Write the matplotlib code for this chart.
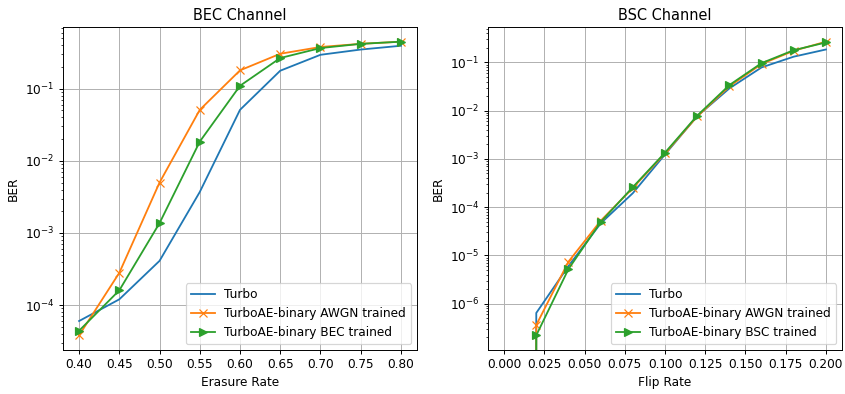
import numpy as np
import matplotlib
matplotlib.use("Agg")
import matplotlib.pyplot as plt

# BEC channel data
bec_x = [0.40, 0.45, 0.50, 0.55, 0.60, 0.65, 0.70, 0.75, 0.80]
bec_turbo = [6.0e-5, 1.2e-4, 4.1e-4, 3.7e-3, 5.1e-2, 1.78e-1, 2.96e-1, 3.5e-1, 3.95e-1]
bec_awgn = [3.8e-5, 2.8e-4, 5.0e-3, 5.1e-2, 1.8e-1, 3.06e-1, 3.8e-1, 4.2e-1, 4.5e-1]
bec_bec = [4.4e-5, 1.6e-4, 1.37e-3, 1.85e-2, 1.1e-1, 2.67e-1, 3.67e-1, 4.2e-1, 4.5e-1]

# BSC channel data
bsc_x = [0.0, 0.02, 0.04, 0.06, 0.08, 0.10, 0.12, 0.14, 0.16, 0.18, 0.20]
bsc_turbo = [0.0, 6.4e-7, 6.0e-6, 4.6e-5, 1.95e-4, 1.24e-3, 7.7e-3, 2.9e-2, 7.9e-2, 1.32e-1, 1.86e-1]
bsc_awgn = [0.0, 3.6e-7, 7.4e-6, 5.2e-5, 2.5e-4, 1.3e-3, 7.6e-3, 3.2e-2, 9.3e-2, 1.75e-1, 2.7e-1]
bsc_bsc = [0.0, 2.2e-7, 5.2e-6, 4.9e-5, 2.6e-4, 1.35e-3, 7.9e-3, 3.4e-2, 9.7e-2, 1.8e-1, 2.6e-1]

DPI = 87
fig = plt.figure(figsize=(845 / DPI, 394 / DPI), dpi=DPI)
ax1 = fig.add_axes([63 / 845, (394 - 350) / 394, 354 / 845, 323 / 394])
ax2 = fig.add_axes([488 / 845, (394 - 350) / 394, 354 / 845, 323 / 394])

ax1.plot(bec_x, bec_turbo, color="C0", label="Turbo")
ax1.plot(bec_x, bec_awgn, color="C1", marker="x", label="TurboAE-binary AWGN trained")
ax1.plot(bec_x, bec_bec, color="C2", marker=">", label="TurboAE-binary BEC trained")
ax1.set_yscale("log")
ax1.set_title("BEC Channel")
ax1.set_xlabel("Erasure Rate")
ax1.set_ylabel("BER")
ax1.set_xticks(bec_x)
ax1.set_xticklabels([f"{v:.2f}" for v in bec_x])
ax1.grid(True, which="major", color="#b0b0b0")
ax1.legend(loc="lower right")

ax2.plot(bsc_x, bsc_turbo, color="C0", label="Turbo")
ax2.plot(bsc_x, bsc_awgn, color="C1", marker="x", label="TurboAE-binary AWGN trained")
ax2.plot(bsc_x, bsc_bsc, color="C2", marker=">", label="TurboAE-binary BSC trained")
ax2.set_yscale("log")
ax2.set_title("BSC Channel")
ax2.set_xlabel("Flip Rate")
ax2.set_ylabel("BER")
ax2.grid(True, which="major", color="#b0b0b0")
ax2.legend(loc="lower right")

fig.savefig("out.png", dpi=DPI)
